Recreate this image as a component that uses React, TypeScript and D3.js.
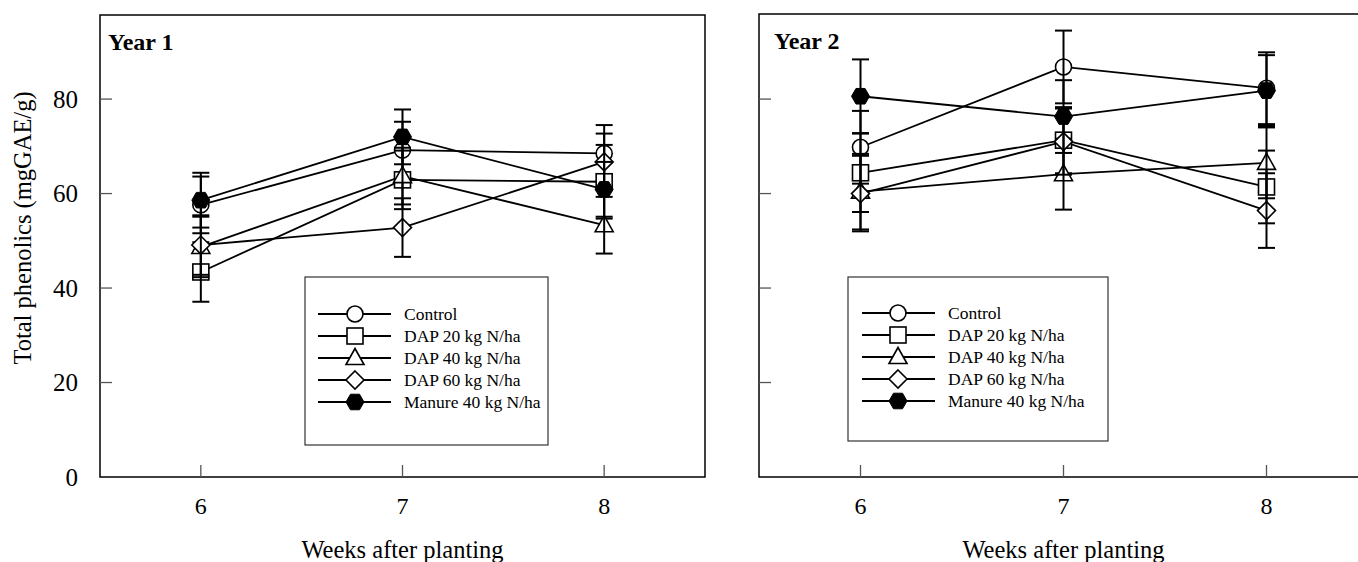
import React from "react";
import * as d3 from "d3";

const weeks = [6, 7, 8];
const seriesNames = ["Control", "DAP 20 kg N/ha", "DAP 40 kg N/ha", "DAP 60 kg N/ha", "Manure 40 kg N/ha"];
const seriesShapes = ["circle", "square", "triangle", "diamond", "hexagon"];

// Year 1 means and standard errors
const y1Control = [57.6, 69.2, 68.5];
const y1Dap20 = [43.4, 62.9, 62.5];
const y1Dap40 = [48.7, 63.7, 53.3];
const y1Dap60 = [49.1, 52.8, 66.7];
const y1Manure = [58.6, 72.0, 60.9];
const y1ControlErr = [6.0, 6.0, 6.0];
const y1Dap20Err = [6.3, 6.2, 7.8];
const y1Dap40Err = [6.4, 6.0, 6.0];
const y1Dap60Err = [6.3, 6.2, 6.0];
const y1ManureErr = [5.8, 5.8, 5.8];

// Year 2 means and standard errors
const y2Control = [69.8, 86.8, 82.3];
const y2Dap20 = [64.4, 71.3, 61.4];
const y2Dap40 = [60.4, 64.1, 66.5];
const y2Dap60 = [60.0, 71.0, 56.4];
const y2Manure = [80.6, 76.3, 81.8];
const y2ControlErr = [7.7, 7.7, 7.6];
const y2Dap20Err = [8.3, 7.0, 7.7];
const y2Dap40Err = [8.0, 7.5, 7.5];
const y2Dap60Err = [8.0, 7.0, 7.9];
const y2ManureErr = [7.8, 7.7, 7.5];

const yTicks = [0, 20, 40, 60, 80];

const FONT = "'Liberation Serif', 'Times New Roman', serif";

type Series = { name: string; shape: string; values: number[]; errs: number[] };

const year1: Series[] = seriesNames.map((name, i) => ({
  name,
  shape: seriesShapes[i],
  values: [y1Control, y1Dap20, y1Dap40, y1Dap60, y1Manure][i],
  errs: [y1ControlErr, y1Dap20Err, y1Dap40Err, y1Dap60Err, y1ManureErr][i],
}));
const year2: Series[] = seriesNames.map((name, i) => ({
  name,
  shape: seriesShapes[i],
  values: [y2Control, y2Dap20, y2Dap40, y2Dap60, y2Manure][i],
  errs: [y2ControlErr, y2Dap20Err, y2Dap40Err, y2Dap60Err, y2ManureErr][i],
}));

function Marker({ shape, x, y }: { shape: string; x: number; y: number }) {
  const sw = 1.6;
  if (shape === "circle") return <circle cx={x} cy={y} r={8} fill="#fff" stroke="#000" strokeWidth={sw} />;
  if (shape === "square") return <rect x={x - 8} y={y - 8} width={16} height={16} fill="#fff" stroke="#000" strokeWidth={sw} />;
  if (shape === "triangle") {
    const p = `${x},${y - 9.5} ${x + 9},${y + 6.5} ${x - 9},${y + 6.5}`;
    return <polygon points={p} fill="#fff" stroke="#000" strokeWidth={sw} />;
  }
  if (shape === "diamond") {
    const p = `${x},${y - 9} ${x + 9},${y} ${x},${y + 9} ${x - 9},${y}`;
    return <polygon points={p} fill="#fff" stroke="#000" strokeWidth={sw} />;
  }
  const pts = d3.range(6).map((k) => {
    const a = (Math.PI / 3) * k;
    return `${x + 9 * Math.cos(a)},${y + 9 * Math.sin(a)}`;
  });
  return <polygon points={pts.join(" ")} fill="#000" stroke="#000" strokeWidth={1} />;
}

function Panel({
  data, x0, x1, top, bottom, label, labelDx, showYLabels, legendBox, legendLine, legendY0,
}: {
  data: Series[]; x0: number; x1: number; top: number; bottom: number; label: string; labelDx: number;
  showYLabels: boolean; legendBox: [number, number, number, number];
  legendLine: [number, number, number]; legendY0: number;
}) {
  const x = d3.scaleLinear().domain([5.5, 8.5]).range([x0, x1]);
  const y = d3.scaleLinear().domain([0, 97.8]).range([477, 15]);
  const line = d3.line<number>().x((_, i) => x(weeks[i])).y((v) => y(v));
  const right = Math.min(x1, 1400);
  return (
    <g>
      {/* frame */}
      <rect x={x0} y={top} width={right - x0} height={bottom - top} fill="none" stroke="#000" strokeWidth={1.5} />
      {/* y ticks */}
      {yTicks.filter((t) => t > 0).map((t) => (
        <line key={t} x1={x0} x2={x0 + 12} y1={y(t)} y2={y(t)} stroke="#555" strokeWidth={1.3} />
      ))}
      {showYLabels && yTicks.map((t) => (
        <text key={t} x={x0 - 22} y={y(t)} dy="0.35em" textAnchor="end" fontFamily={FONT} fontSize={25}>{t}</text>
      ))}
      {/* x ticks */}
      {weeks.map((w) => (
        <g key={w}>
          <line x1={x(w)} x2={x(w)} y1={bottom} y2={bottom - 12} stroke="#555" strokeWidth={1.3} />
          <text x={x(w)} y={514} textAnchor="middle" fontFamily={FONT} fontSize={24}>{w}</text>
        </g>
      ))}
      <text x={x(7)} y={558} textAnchor="middle" fontFamily={FONT} fontSize={24.5}>Weeks after planting</text>
      <text x={x0 + labelDx} y={top + 35} fontFamily={FONT} fontSize={24} fontWeight="bold">{label}</text>
      {/* lines */}
      {data.map((s) => (
        <path key={s.name} d={line(s.values) || ""} fill="none" stroke="#000" strokeWidth={1.8} />
      ))}
      {/* markers & error bars */}
      {data.map((s) => (
        <g key={s.name}>
          {s.values.map((v, i) => (
            <Marker key={i} shape={s.shape} x={x(weeks[i])} y={y(v)} />
          ))}
          {s.values.map((v, i) => {
            const cx = x(weeks[i]);
            const hi = y(v + s.errs[i]);
            const lo = y(v - s.errs[i]);
            return (
              <g key={"e" + i} stroke="#000" strokeWidth={2}>
                <line x1={cx} x2={cx} y1={hi} y2={lo} />
                <line x1={cx - 8.5} x2={cx + 8.5} y1={hi} y2={hi} />
                <line x1={cx - 8.5} x2={cx + 8.5} y1={lo} y2={lo} />
              </g>
            );
          })}
        </g>
      ))}
      {/* legend */}
      <rect x={legendBox[0]} y={legendBox[1]} width={legendBox[2]} height={legendBox[3]} fill="#fff" stroke="#333" strokeWidth={1.2} />
      {data.map((s, i) => {
        const ly = legendY0 + i * 22;
        return (
          <g key={"l" + s.name}>
            <line x1={legendLine[0]} x2={legendLine[2]} y1={ly} y2={ly} stroke="#000" strokeWidth={1.8} />
            <Marker shape={s.shape} x={legendLine[1]} y={ly} />
            <text x={legendLine[2] + 13} y={ly} dy="0.35em" fontFamily={FONT} fontSize={17.5}>{s.name}</text>
          </g>
        );
      })}
    </g>
  );
}

export default function App() {
  return (
    <svg width={1358} height={562} style={{ position: "absolute", left: 0, top: 0, background: "#fff" }}>
      <rect x={0} y={0} width={1358} height={562} fill="#fff" />
      <text transform="translate(31,228) rotate(-90)" textAnchor="middle" fontFamily={FONT} fontSize={24.5}>
        Total phenolics (mgGAE/g)
      </text>
      <Panel data={year1} x0={100} x1={705} top={15} bottom={477} label="Year 1" labelDx={8} showYLabels={true}
        legendBox={[305, 277, 243, 168]} legendLine={[318, 355, 391]} legendY0={314} />
      <Panel data={year2} x0={759} x1={1368} top={14} bottom={477} label="Year 2" labelDx={15} showYLabels={false}
        legendBox={[848, 277, 260, 164]} legendLine={[862, 898, 935]} legendY0={313} />
    </svg>
  );
}
